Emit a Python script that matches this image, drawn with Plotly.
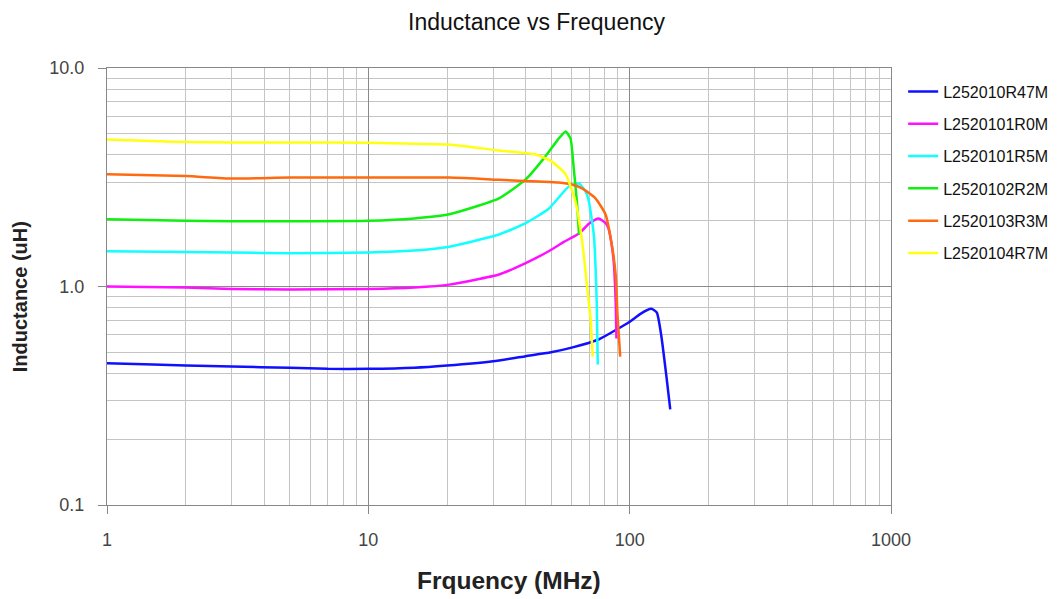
import plotly.graph_objects as go

names = ["L252010R47M", "L2520101R0M", "L2520101R5M", "L2520102R2M", "L2520103R3M", "L2520104R7M"]
colors = ["#1010ff", "#ff10ff", "#10ffff", "#10f010", "#ff6a10", "#ffff10"]

f_r47 = [1, 1.5, 2, 3, 5, 7, 10, 15, 20, 30, 40, 50, 60, 76, 90, 100, 110, 121, 127, 132, 138, 143]
l_r47 = [0.445, 0.44, 0.435, 0.43, 0.425, 0.42, 0.42, 0.425, 0.435, 0.455, 0.48, 0.50, 0.525, 0.572, 0.64, 0.69, 0.75, 0.79, 0.76, 0.60, 0.395, 0.274]

f_1r0 = [1, 2, 3, 5, 10, 15, 20.4, 31.6, 40, 49, 56, 64, 70, 76, 81, 83, 85, 86.9, 88.4, 89]
l_1r0 = [1.0, 0.99, 0.975, 0.97, 0.975, 0.99, 1.02, 1.135, 1.28, 1.45, 1.6, 1.75, 1.94, 2.05, 1.95, 1.84, 1.6, 1.30, 0.854, 0.578]

f_1r5 = [1, 2, 3, 5, 10, 15, 20.4, 31.6, 40, 49, 58.5, 64, 68, 69.8, 72.9, 74.8, 75.5]
l_1r5 = [1.45, 1.44, 1.43, 1.42, 1.43, 1.46, 1.52, 1.73, 1.95, 2.27, 2.87, 2.96, 2.7, 2.45, 1.73, 0.854, 0.44]

f_2r2 = [1, 2, 3, 5, 10, 15, 20.4, 31.6, 40, 47.6, 53.5, 56.9, 59.4, 61.1, 62.8, 64]
l_2r2 = [2.03, 2.0, 1.99, 1.99, 2.0, 2.05, 2.14, 2.53, 3.09, 3.94, 4.75, 5.12, 4.75, 3.47, 2.45, 1.73]

f_3r3 = [1, 2, 3, 5, 10, 20.4, 31.6, 45, 53.5, 60, 65.8, 74, 80.8, 85, 88.4, 89.8, 92]
l_3r3 = [3.26, 3.2, 3.12, 3.15, 3.15, 3.15, 3.08, 3.02, 2.99, 2.93, 2.81, 2.53, 2.14, 1.61, 1.13, 0.745, 0.478]

f_4r7 = [1, 1.8, 3, 5, 10, 15, 20.4, 31.6, 43.7, 50.4, 56.9, 62, 65.8, 68.6, 70.8, 72.2]
l_4r7 = [4.71, 4.6, 4.56, 4.56, 4.55, 4.5, 4.47, 4.19, 4.02, 3.73, 3.26, 2.45, 1.61, 1.02, 0.714, 0.478]

series = [(f_r47, l_r47), (f_1r0, l_1r0), (f_1r5, l_1r5), (f_2r2, l_2r2), (f_3r3, l_3r3), (f_4r7, l_4r7)]

x_ticks = [1, 10, 100, 1000]
x_tick_text = ["1", "10", "100", "1000"]
y_ticks = [0.1, 1, 10]
y_tick_text = ["0.1", "1.0", "10.0"]

x_minor = [m * d for d in (1, 10, 100) for m in range(2, 10)]
y_minor = [m * d for d in (0.1, 1) for m in range(2, 10)]

fig = go.Figure()
for i, (name, color, (fx, ly)) in enumerate(zip(names, colors, series)):
    fig.add_trace(go.Scatter(x=fx, y=ly, mode="lines", name=name, legendgroup=str(i),
                             line=dict(color=color, width=2.5, shape="spline", smoothing=0.5)))

fig.update_layout(
    width=1057, height=599,
    paper_bgcolor="white", plot_bgcolor="white",
    margin=dict(l=99, r=172, t=60, b=102),
    font=dict(family="Liberation Sans, Arial, sans-serif", color="#222"),
    title=dict(text="Inductance vs Frequency", x=0.5, xanchor="center",
               yref="container", y=1 - 14 / 599, yanchor="middle",
               font=dict(size=23, color="#111")),
    showlegend=True,
    legend=dict(x=1.0155, xanchor="left", y=0.985, yanchor="top", tracegroupgap=8.5,
                font=dict(size=16, color="#111"), bgcolor="rgba(0,0,0,0)"),
    annotations=[
        dict(text="<b>Inductance (uH)</b>", textangle=-90, xref="paper", yref="paper",
             x=-87 / 786, y=(505 - 297) / 437, xanchor="center", yanchor="middle",
             showarrow=False, font=dict(size=20, color="#222")),
        dict(text="<b>Frquency (MHz)</b>", xref="paper", yref="paper",
             x=(510 - 107) / 786, y=-(580 - 505) / 437, xanchor="center", yanchor="middle",
             showarrow=False, font=dict(size=24.5, color="#222")),
    ],
)
fig.update_xaxes(
    type="log", range=[0, 3], tickvals=x_ticks, ticktext=x_tick_text,
    showgrid=True, gridcolor="#8a8a8a", gridwidth=1,
    showline=True, linecolor="#888", mirror=True,
    ticks="outside", ticklen=8, tickcolor="#888",
    ticklabelstandoff=10,
    tickfont=dict(size=18, color="#444"),
    minor=dict(tickvals=x_minor, showgrid=True, gridcolor="#c4c4c4", gridwidth=1, ticks=""),
    zeroline=False,
)
fig.update_yaxes(
    type="log", range=[-1, 1], tickvals=y_ticks, ticktext=y_tick_text,
    showgrid=True, gridcolor="#8a8a8a", gridwidth=1,
    showline=True, linecolor="#888", mirror=True,
    ticks="outside", ticklen=8, tickcolor="#888",
    ticklabelstandoff=10,
    tickfont=dict(size=18, color="#444"),
    minor=dict(tickvals=y_minor, showgrid=True, gridcolor="#c4c4c4", gridwidth=1, ticks=""),
    zeroline=False,
)

fig.write_html("out.html")
